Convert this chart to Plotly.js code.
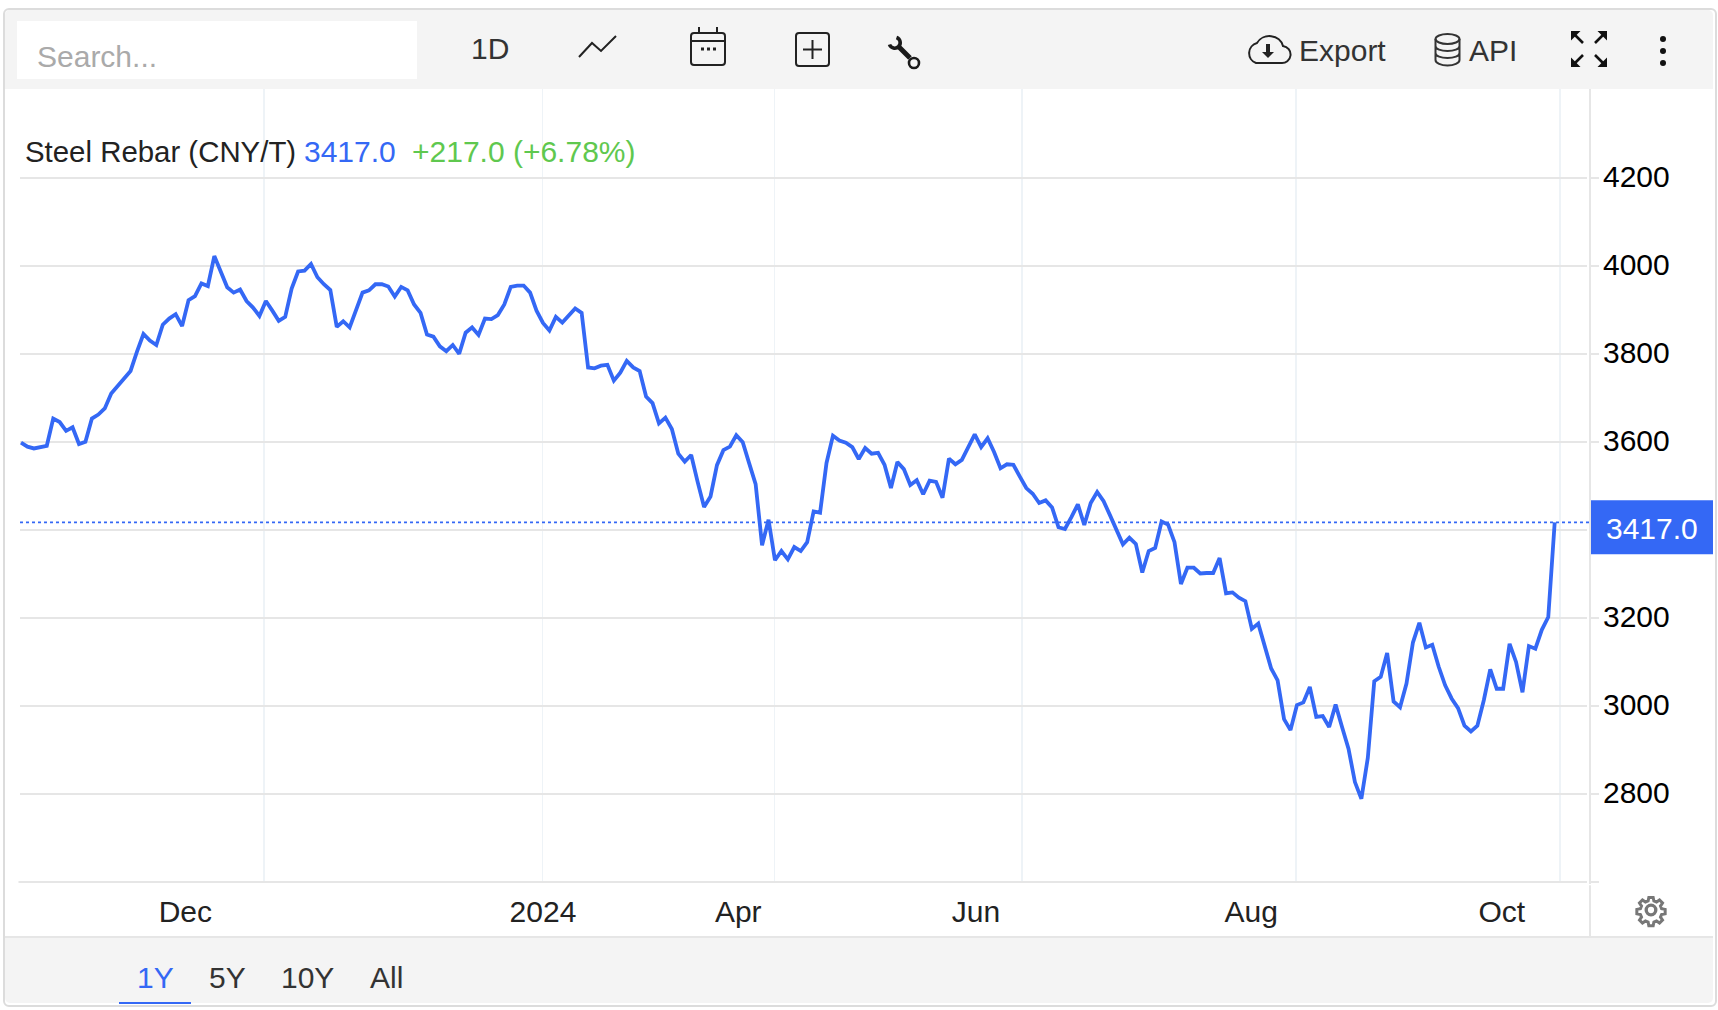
<!DOCTYPE html>
<html><head><meta charset="utf-8">
<script src="https://cdn.plot.ly/plotly-3.0.1.min.js"></script>
<style>
html,body{margin:0;padding:0;background:#fff;width:1718px;height:1010px;overflow:hidden;font-family:"Liberation Sans",Arial,sans-serif}
#frame{position:absolute;left:3px;top:8px;width:1710px;height:995px;border:2px solid #dcdcdc;border-radius:6px;box-sizing:content-box}
.bar{position:absolute;background:#f4f4f4}
.t{position:absolute;font-size:30px;line-height:34px;color:#333;white-space:nowrap}
svg.i{position:absolute;overflow:visible}
#plot{position:absolute;left:0;top:0;width:1718px;height:1010px}
</style></head><body>
<div class="bar" style="left:5px;top:10px;width:1708px;height:79px;border-radius:5px 5px 0 0"></div>
<div class="bar" style="left:5px;top:936px;width:1708px;height:67px;border-top:2px solid #e6e6e6;border-radius:0 0 5px 5px;box-sizing:border-box"></div>
<div id="frame"></div>
<div style="position:absolute;left:17px;top:21px;width:400px;height:58px;background:#fff"></div>
<div class="t" style="left:37px;top:40px;color:#aaa">Search...</div>
<div class="t" style="left:471px;top:32px">1D</div>
<svg class="i" style="left:578px;top:35px" width="40" height="24" fill="none" stroke="#222" stroke-width="2"><path d="M1 22 L14 8 L23 16 L38 1"/></svg>
<svg class="i" style="left:690px;top:26px" width="36" height="40" fill="none" stroke="#222" stroke-width="2"><rect x="1" y="7" width="34" height="32" rx="3"/><path d="M1 15H35M9 1V7M27 1V7"/><path d="M11 23H14M17 23H20M23 23H26" stroke-width="3"/></svg>
<svg class="i" style="left:795px;top:32px" width="36" height="36" fill="none" stroke="#222" stroke-width="2"><rect x="1" y="1" width="33" height="33" rx="3"/><path d="M17.5 8V27M8 17.5H27"/></svg>
<svg class="i" style="left:888px;top:36px" width="34" height="34" fill="none" stroke="#1a1a1a"><path d="M10 10 L22 22" stroke-width="5"/><path d="M1.5 8.5 A5.5 5.5 0 1 0 8.5 1.5" stroke-width="3.6"/><circle cx="26" cy="27" r="5" stroke-width="2.6"/></svg>
<svg class="i" style="left:1245px;top:33px" width="46" height="32" fill="none" stroke="#222" stroke-width="2"><path d="M11 30 H36 A8.5 8.5 0 0 0 38 13 A14 13 0 0 0 12 10 A10.5 10.5 0 0 0 11 30 Z"/><path d="M23 11V20" stroke-width="4"/><path d="M17 19H29L23 25Z" fill="#222" stroke="none"/></svg>
<div class="t" style="left:1299px;top:34px">Export</div>
<svg class="i" style="left:1434px;top:33px" width="27" height="34" fill="none" stroke="#333" stroke-width="2"><ellipse cx="13.5" cy="6" rx="12" ry="5"/><path d="M1.5 6V27C1.5 30 7 32.5 13.5 32.5S25.5 30 25.5 27V6M1.5 13C1.5 16 7 18 13.5 18S25.5 16 25.5 13M1.5 20C1.5 23 7 25 13.5 25S25.5 23 25.5 20"/></svg>
<div class="t" style="left:1469px;top:34px">API</div>
<svg class="i" style="left:1571px;top:31px" width="36" height="36" fill="#111" stroke="#111" stroke-width="0"><path d="M0 0H9.5L0 9.5Z"/><path d="M36 0H26.5L36 9.5Z"/><path d="M0 36H9.5L0 26.5Z"/><path d="M36 36H26.5L36 26.5Z"/><path d="M4 4L12 12M32 4L24 12M4 32L12 24M32 32L24 24" stroke-width="2.6"/></svg>
<svg class="i" style="left:1657px;top:33px" width="12" height="36" fill="#111"><circle cx="6" cy="6" r="3"/><circle cx="6" cy="18" r="3"/><circle cx="6" cy="30" r="3"/></svg>
<svg class="i" style="left:1635px;top:894px" width="32" height="32" viewBox="0 0 24 24" fill="none" stroke="#777" stroke-width="2.5"><circle cx="12" cy="12" r="3.6"/><path d="M10.2 1.5h3.6l.6 3 2.2.9 2.5-1.7 2.5 2.5-1.7 2.5.9 2.2 3 .6v3.6l-3 .6-.9 2.2 1.7 2.5-2.5 2.5-2.5-1.7-2.2.9-.6 3h-3.6l-.6-3-2.2-.9-2.5 1.7-2.5-2.5 1.7-2.5-.9-2.2-3-.6v-3.6l3-.6.9-2.2-1.7-2.5 2.5-2.5 2.5 1.7 2.2-.9z" transform="translate(1.2 1.2) scale(.9)"/></svg>
<div class="t" style="left:137px;top:961px;color:#3468f5">1Y</div>
<div class="t" style="left:209px;top:961px">5Y</div>
<div class="t" style="left:281px;top:961px">10Y</div>
<div class="t" style="left:370px;top:961px">All</div>
<div style="position:absolute;left:119px;top:1002px;width:72px;height:2px;background:#3468f5"></div>
<div id="plot"></div>
<script>
const prices = [3598,3589,3585,3588,3591,3653,3645,3625,3633,3595,3600,3653,3662,3676,3710,3727,3744,3761,3805,3845,
3830,3820,3866,3880,3890,3863,3922,3931,3960,3954,4022,3986,3951,3939,3946,3920,3905,3886,3920,3898,
3875,3884,3948,3987,3989,4004,3974,3958,3945,3861,3874,3860,3898,3939,3944,3958,3958,3953,3930,3952,
3944,3912,3893,3844,3839,3817,3806,3820,3800,3848,3860,3843,3880,3879,3888,3912,3952,3955,3955,3939,
3898,3870,3853,3884,3871,3886,3903,3893,3769,3767,3773,3775,3739,3757,3784,3769,3761,3703,3688,3642,
3655,3629,3573,3555,3570,3509,3452,3476,3547,3581,3589,3615,3599,3551,3504,3365,3423,3331,3352,3333,
3361,3352,3372,3442,3439,3552,3614,3603,3598,3588,3561,3586,3573,3575,3548,3495,3554,3538,3502,3513,
3481,3512,3509,3473,3562,3549,3559,3588,3617,3588,3608,3577,3540,3549,3548,3521,3495,3482,3461,3467,
3451,3406,3402,3429,3458,3411,3461,3486,3465,3433,3400,3367,3382,3368,3303,3352,3359,3419,3412,3372,
3277,3314,3314,3301,3302,3302,3336,3256,3258,3246,3238,3175,3187,3134,3085,3058,2970,2945,3002,3008,
3043,2975,2977,2952,3003,2952,2903,2827,2789,2882,3056,3066,3120,3010,2997,3051,3144,3189,3133,3139,
3089,3047,3017,2995,2955,2942,2955,3013,3083,3039,3039,3141,3100,3031,3136,3130,3173,3202,3417];
const tradingDay = prices.map((_, i) => i);
const monthLabels = ["Dec","2024","Apr","Jun","Aug","Oct"];
const monthLabelDays = [25.5,81,111.3,148.2,190.9,229.8];
const gridDays = [37.7,80.9,116.9,155.3,197.9,238.8];
const priceTicks = [2800,3000,3200,3400,3600,3800,4000,4200];
const priceTickLabels = ["2800","3000","3200","","3600","3800","4000","4200"];
const lastPrice = 3417;
const W=1718,H=1010,L=20,R=1590,T=89,B=881.7;
const step=(1554.7-21)/238;
const xRange=[(L-21)/step,(R-21)/step];
const BLUE="#3468f5",GRID="#e6e6e6";
const px=x=>(x-L)/(R-L), py=y=>(B-y)/(B-T);
const font={family:'"Liberation Sans",Arial,sans-serif',size:30,color:"#222"};
function note(x,y,text,color,anchor,size){return {xref:"paper",yref:"paper",x:px(x),y:py(y),text,showarrow:false,xanchor:anchor||"left",yanchor:"middle",font:{...font,color,size:size||30},borderpad:0};}
const layout={
 width:W,height:H,autosize:false,showlegend:false,
 paper_bgcolor:"rgba(0,0,0,0)",plot_bgcolor:"rgba(0,0,0,0)",
 margin:{l:L,r:W-R,t:T,b:H-B,pad:0},
 font,
 xaxis:{range:xRange,tickmode:"array",tickvals:gridDays,ticktext:gridDays.map(()=>""),showgrid:true,gridcolor:"#eef3f7",gridwidth:1.6,zeroline:false,showline:false,ticks:""},
 xaxis2:{overlaying:"x",side:"bottom",anchor:"y",range:xRange,tickmode:"array",tickvals:monthLabelDays,ticktext:monthLabels,showgrid:false,zeroline:false,showline:false,ticks:"outside",ticklen:3,tickcolor:"rgba(0,0,0,0)",tickfont:{...font,color:"#222"}},
 yaxis:{side:"right",range:[2600,4401.6],tickmode:"array",tickvals:priceTicks,ticktext:priceTickLabels,showgrid:true,gridcolor:GRID,gridwidth:1.6,zeroline:false,showline:false,ticks:"outside",ticklen:8,tickwidth:1.6,tickcolor:GRID,ticklabelstandoff:-2,ticklabelshift:-1,tickfont:{...font,color:"#000"}},
 shapes:[
  {type:"line",xref:"paper",yref:"paper",x0:px(18.5),x1:px(1599),y0:0,y1:0,line:{color:GRID,width:1.8}},
  {type:"rect",xref:"paper",yref:"paper",x0:px(1587),x1:px(1589),y0:py(T),y1:py(B+2),fillcolor:"#fff",line:{width:0},layer:"above"},
  {type:"line",xref:"paper",yref:"paper",x0:px(1590),x1:px(1590),y0:py(T),y1:py(B+2),line:{color:GRID,width:2}},
  {type:"line",xref:"paper",yref:"paper",x0:px(1590),x1:px(1590),y0:py(885),y1:py(936),line:{color:GRID,width:2}},
  {type:"line",xref:"paper",yref:"y",x0:0,x1:1,y0:lastPrice,y1:lastPrice,line:{color:BLUE,width:1.6,dash:"dot"},layer:"above"},
  {type:"rect",xref:"paper",yref:"paper",x0:px(1591),x1:px(1713),y0:py(500),y1:py(554),fillcolor:BLUE,line:{width:0},layer:"above"}
 ],
 annotations:[
  note(24,151,"Steel Rebar (CNY/T)","#222","left",29.4),
  note(303,151,String(lastPrice.toFixed(1)),BLUE),
  note(410.5,151,"+217.0 (+6.78%)","#5fc84f"),
  note(1652,528,String(lastPrice.toFixed(1)),"#fff","center")
 ]
};
const traces=[
 {type:"scatter",mode:"lines",x:tradingDay,y:prices,xaxis:"x",yaxis:"y",line:{color:BLUE,width:3.8,shape:"linear"},hoverinfo:"skip",cliponaxis:true},
 {type:"scatter",mode:"lines",x:[tradingDay[0]],y:[prices[0]],xaxis:"x2",yaxis:"y",line:{color:"rgba(0,0,0,0)"},hoverinfo:"skip"}
];
Plotly.newPlot("plot",traces,layout,{staticPlot:true,displayModeBar:false});
</script>
</body></html>
